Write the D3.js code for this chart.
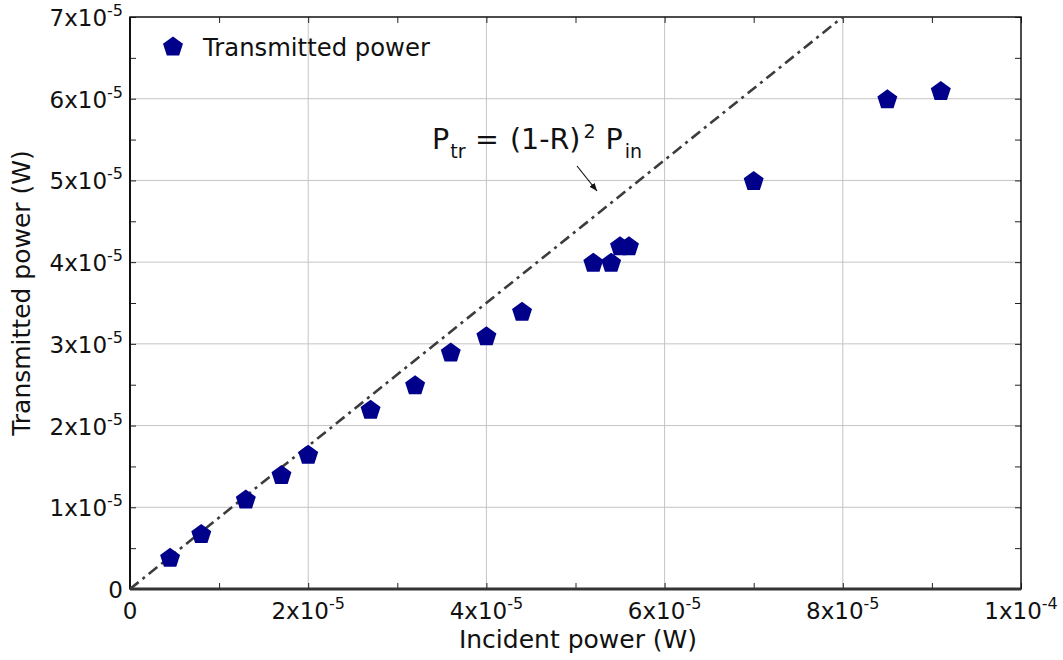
<!DOCTYPE html>
<html><head><meta charset="utf-8">
<script src="https://cdn.jsdelivr.net/npm/d3@7"></script>
<style>body{margin:0;background:#fff}svg{font-family:"DejaVu Sans",Verdana,sans-serif}</style>
</head><body><svg id="c" width="1063" height="660"></svg>
<script>
const incident = [4.5e-6, 8e-6, 1.3e-5, 1.7e-5, 2.0e-5, 2.7e-5, 3.2e-5, 3.6e-5, 4.0e-5, 4.4e-5, 5.2e-5, 5.4e-5, 5.5e-5, 5.6e-5, 7.0e-5, 8.5e-5, 9.1e-5];
const transmitted = [3.9e-6, 6.8e-6, 1.1e-5, 1.4e-5, 1.65e-5, 2.2e-5, 2.5e-5, 2.9e-5, 3.1e-5, 3.4e-5, 4.0e-5, 4.0e-5, 4.2e-5, 4.2e-5, 5.0e-5, 6.0e-5, 6.1e-5];
const xTicks = [0, 2e-5, 4e-5, 6e-5, 8e-5, 1e-4];
const xTickLabels = [["0",""],["2x10","-5"],["4x10","-5"],["6x10","-5"],["8x10","-5"],["1x10","-4"]];
const yTicks = [0, 1e-5, 2e-5, 3e-5, 4e-5, 5e-5, 6e-5, 7e-5];
const yTickLabels = [["0",""],["1x10","-5"],["2x10","-5"],["3x10","-5"],["4x10","-5"],["5x10","-5"],["6x10","-5"],["7x10","-5"]];
const fitFactor = 0.875; // (1-R)^2
const fitX = [0, 1e-4];

const svg = d3.select("#c");
const L=130, R=1021, T=17, B=589;
const x = d3.scaleLinear().domain([0,1e-4]).range([L,R]);
const y = d3.scaleLinear().domain([0,7e-5]).range([B,T]);

svg.append("clipPath").attr("id","pc").append("rect").attr("x",L).attr("y",T).attr("width",R-L).attr("height",B-T);

// grid
svg.append("g").selectAll("line").data(xTicks.slice(1,-1)).join("line")
  .attr("x1",d=>x(d)).attr("x2",d=>x(d)).attr("y1",T).attr("y2",B).attr("stroke","#c4c4c4").attr("stroke-width",1);
svg.append("g").selectAll("line").data(yTicks.slice(1,-1)).join("line")
  .attr("y1",d=>y(d)).attr("y2",d=>y(d)).attr("x1",L).attr("x2",R).attr("stroke","#c4c4c4").attr("stroke-width",1);

// axes with inward ticks
const minorX = d3.range(0,11).map(i=>i*1e-5);
const minorY = d3.range(0,15).map(i=>i*0.5e-5);
const ax = svg.append("g");
function ticks(g, axis, tr){ const s=g.append("g").attr("transform",tr).call(axis); s.select(".domain").remove(); s.selectAll("text").remove(); s.selectAll("line").attr("stroke","#222"); }
ticks(ax, d3.axisBottom(x).tickValues(minorX).tickSizeInner(-6).tickSizeOuter(0), `translate(0,${B})`);
ticks(ax, d3.axisTop(x).tickValues(minorX).tickSizeInner(-6).tickSizeOuter(0), `translate(0,${T})`);
ticks(ax, d3.axisLeft(y).tickValues(minorY).tickSizeInner(-6).tickSizeOuter(0), `translate(${L},0)`);
ticks(ax, d3.axisRight(y).tickValues(minorY).tickSizeInner(-6).tickSizeOuter(0), `translate(${R},0)`);

// frame
svg.append("rect").attr("x",L).attr("y",T).attr("width",R-L).attr("height",B-T).attr("fill","none").attr("stroke","#111").attr("stroke-width",1.5);
svg.append("line").attr("x1",L).attr("x2",R).attr("y1",B).attr("y2",B).attr("stroke","#333").attr("stroke-width",3);
svg.append("line").attr("x1",L).attr("x2",L).attr("y1",T).attr("y2",B).attr("stroke","#111").attr("stroke-width",2);

// tick labels
const xl = svg.append("g").attr("font-size",23).attr("fill","#111");
xTicks.forEach((t,i)=>{
  const tx = xl.append("text").attr("x",x(t)).attr("y",619).attr("text-anchor","middle");
  tx.append("tspan").text(xTickLabels[i][0]);
  if (xTickLabels[i][1]) tx.append("tspan").attr("dy",-10).attr("font-size",16).text(xTickLabels[i][1]);
});
const yl = svg.append("g").attr("font-size",23).attr("fill","#111");
yTicks.forEach((t,i)=>{
  const tx = yl.append("text").attr("x",123).attr("y",y(t)+9).attr("text-anchor","end");
  tx.append("tspan").text(yTickLabels[i][0]);
  if (yTickLabels[i][1]) tx.append("tspan").attr("dy",-10).attr("font-size",16).text(yTickLabels[i][1]);
});

// axis titles
svg.append("text").attr("x",578).attr("y",648).attr("text-anchor","middle").attr("font-size",25).attr("fill","#111").text("Incident power (W)");
svg.append("text").attr("transform",`translate(30,293) rotate(-90)`).attr("text-anchor","middle").attr("font-size",25).attr("fill","#111").text("Transmitted power (W)");

// fit line
svg.append("line").attr("clip-path","url(#pc)")
  .attr("x1",x(fitX[0])).attr("y1",y(fitX[0]*fitFactor)).attr("x2",x(fitX[1])).attr("y2",y(fitX[1]*fitFactor))
  .attr("stroke","#3c3c3c").attr("stroke-width",2.6).attr("stroke-dasharray","11,5,3,5");

// pentagon markers
function pentPath(r){ const p=[]; for(let k=0;k<5;k++){const a=-Math.PI/2+k*2*Math.PI/5; p.push([r*Math.cos(a), r*Math.sin(a)]);} return "M"+p.map(q=>q.join(",")).join("L")+"Z"; }
svg.append("g").selectAll("path").data(incident.map((v,i)=>[v,transmitted[i]])).join("path")
  .attr("d",pentPath(10.5)).attr("transform",d=>`translate(${x(d[0])},${y(d[1])+1})`).attr("fill","#00008b");

// legend
svg.append("path").attr("d",pentPath(10.5)).attr("transform","translate(173,47)").attr("fill","#00008b");
svg.append("text").attr("x",203).attr("y",56).attr("font-size",24.3).attr("fill","#111").text("Transmitted power");

// annotation
const ann = svg.append("text").attr("x",432).attr("y",149).attr("font-size",28.5).attr("fill","#111");
ann.append("tspan").text("P");
ann.append("tspan").attr("dx",1).attr("dy",9).attr("font-size",19).text("tr");
ann.append("tspan").attr("x",475).attr("dy",-9).text("=");
ann.append("tspan").attr("x",510).text("(1-R)");
ann.append("tspan").attr("dx",3).attr("dy",-11).attr("font-size",19).text("2");
ann.append("tspan").attr("dx",10).attr("dy",11).text("P");
ann.append("tspan").attr("dx",2).attr("dy",9).attr("font-size",19).text("in");
svg.append("defs").append("marker").attr("id","ah").attr("viewBox","0 0 10 10").attr("refX",10).attr("refY",5)
  .attr("markerWidth",8).attr("markerHeight",8).attr("orient","auto").attr("markerUnits","userSpaceOnUse")
  .append("path").attr("d","M0,1L10,5L0,9Z").attr("fill","#111");
svg.append("line").attr("x1",577).attr("y1",166).attr("x2",597).attr("y2",191).attr("stroke","#111").attr("stroke-width",1.2).attr("marker-end","url(#ah)");
</script></body></html>
